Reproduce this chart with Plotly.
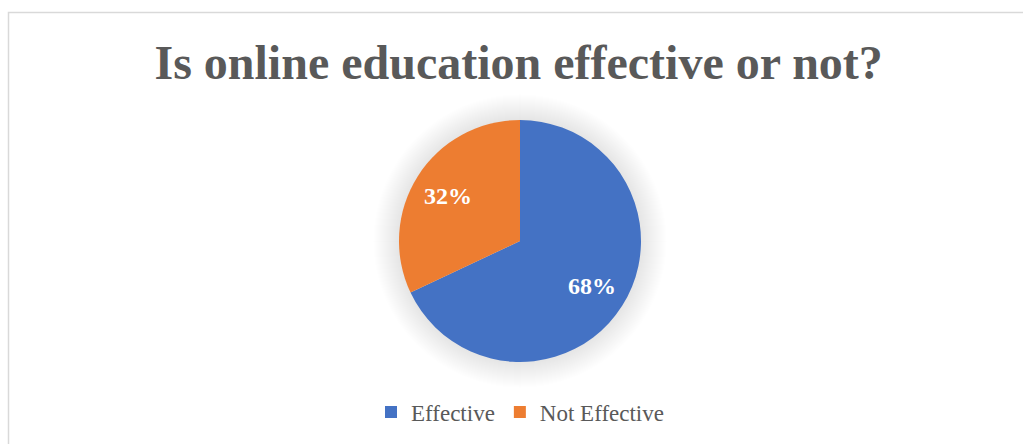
import math
import plotly.graph_objects as go

categories = ["Effective", "Not Effective"]
values = [68, 32]
colors = ["#4472C4", "#ED7D31"]
title_text = "Is online education effective or not?"

W, H = 1023, 444
cx, cy, r = 520, 241, 121  # pie centre / radius in pixels

dx0, dx1 = (cx - r) / W, (cx + r) / W
dy0, dy1 = (H - cy - r) / H, (H - cy + r) / H

fig = go.Figure()
fig.add_trace(go.Pie(
    labels=categories,
    values=values,
    marker=dict(colors=colors, line=dict(width=0)),
    sort=False,
    direction="clockwise",
    rotation=0,
    textinfo="none",
    domain=dict(x=[dx0, dx1], y=[dy0, dy1]),
    hoverinfo="label+percent",
))

# data labels placed along each slice's bisector (computed from the values)
total = sum(values)
annotations = []
start = 0.0
for v in values:
    mid = (start + v / 2) / total * 2 * math.pi  # clockwise from 12 o'clock
    start += v
    lx = cx + 0.70 * r * math.sin(mid)
    ly = cy - 0.70 * r * math.cos(mid)
    annotations.append(dict(
        x=lx / W, y=(H - ly) / H, xref="paper", yref="paper",
        text="<b>%d%%</b>" % round(v / total * 100),
        showarrow=False, xanchor="center", yanchor="middle",
        font=dict(family="Liberation Serif", size=24, color="white"),
    ))

shapes = []
# soft glow/shadow around the pie
for i in range(26, 0, -1):
    rr = r + i * 1.0
    shapes.append(dict(
        type="circle", xref="paper", yref="paper", layer="below",
        x0=(cx - rr) / W, x1=(cx + rr) / W,
        y0=(H - cy - rr) / H, y1=(H - cy + rr) / H,
        fillcolor="rgba(0,0,0,0.005)", line=dict(width=0),
    ))
# chart area border
shapes.append(dict(
    type="rect", xref="paper", yref="paper",
    x0=8.5 / W, x1=1.02, y0=-0.02, y1=(H - 12.5) / H,
    line=dict(color="#D9D9D9", width=1.5), fillcolor="rgba(0,0,0,0)",
))

fig.update_layout(
    width=W, height=H,
    margin=dict(l=0, r=0, t=0, b=0),
    paper_bgcolor="white",
    plot_bgcolor="white",
    title=dict(
        text="<b>" + title_text + "</b>",
        x=0.507, xanchor="center",
        y=1 - 62 / H, yanchor="middle",
        font=dict(family="Liberation Serif", size=48, color="#595959"),
    ),
    showlegend=True,
    legend=dict(
        orientation="h",
        x=520 / W, xanchor="center",
        y=1 - 412 / H, yanchor="middle",
        font=dict(family="Liberation Serif", size=23, color="#595959"),
        itemwidth=30,
        traceorder="normal",
    ),
    annotations=annotations,
    shapes=shapes,
)

fig.write_html(
    "out.html",
    config={"displayModeBar": False},
    post_script="document.body.style.margin='0';document.body.style.padding='0';",
)
